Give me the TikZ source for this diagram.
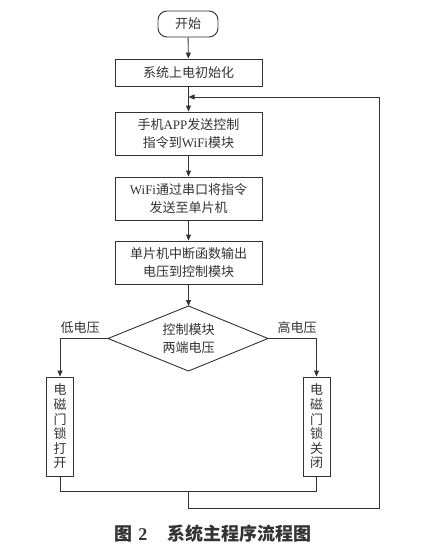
\documentclass[tikz,border=0pt]{standalone}
\usepackage{fontspec}
\setmainfont{Liberation Serif}
\newfontfamily\cjk{Noto Sans CJK SC}
\usetikzlibrary{shapes.geometric,arrows.meta}
\definecolor{ink}{HTML}{333333}
\begin{document}
\begin{tikzpicture}[x=1pt,y=-1pt,
  every node/.style={font=\fontsize{13}{17.5}\selectfont, text=ink},
  procbox/.style={draw=ink, line width=0.9pt, minimum width=147pt, inner sep=0pt, align=center},
  vbox/.style={draw=ink, line width=0.9pt, minimum width=27pt, minimum height=99pt, inner sep=0pt, align=center, font=\fontsize{13}{14.6}\selectfont},
  conn/.style={draw=ink, line width=0.9pt},
  arr/.style={conn, -{Triangle[length=6pt,width=5pt]}}]
\useasboundingbox (0,0) rectangle (426,549);
\node[procbox, rounded corners=9pt, minimum width=60pt, minimum height=26pt] (start) at (188,24) {\cjk 开始};
\node[procbox, minimum height=27pt] (b1) at (188.5,72.5) {\cjk 系统上电初始化};
\node[procbox, minimum height=43pt] (b2) at (188.5,133.5) {{\cjk 手机}APP{\cjk 发送控制}\\{\cjk 指令到}WiFi{\cjk 模块}};
\node[procbox, minimum height=43pt] (b3) at (188.5,198.5) {WiFi{\cjk 通过串口将指令}\\{\cjk 发送至单片机}};
\node[procbox, minimum height=43pt] (b4) at (188.5,262.5) {{\cjk 单片机中断函数输出}\\{\cjk 电压到控制模块}};
\coordinate (dt) at (188.5,306);
\coordinate (db) at (188.5,371);
\coordinate (dl) at (108,338.5);
\coordinate (dr) at (268,338.5);
\draw[conn, line join=miter] (dt) -- (dr) -- (db) -- (dl) -- cycle;
\node[align=center, inner sep=0pt] (dia) at (188.5,338.5) {{\cjk 控制模块}\\{\cjk 两端电压}};
\node[vbox] (lb) at (60,426.5) {\cjk 电\\\cjk 磁\\\cjk 门\\\cjk 锁\\\cjk 打\\\cjk 开};
\node[vbox] (rb) at (316.5,426.5) {\cjk 电\\\cjk 磁\\\cjk 门\\\cjk 锁\\\cjk 关\\\cjk 闭};
\node (lowl) at (80,328) {\cjk 低电压};
\node (highl) at (297,328) {\cjk 高电压};
\coordinate (lc) at (60,338.5);
\coordinate (rc) at (316.5,338.5);
\coordinate (ml) at (60,491);
\coordinate (mr) at (316.5,491);
\coordinate (mm) at (188.5,491);
\coordinate (bm) at (188.5,508);
\coordinate (br) at (379,508);
\coordinate (tr) at (379,97);
\coordinate (jn) at (188.5,97);
\draw[arr] (start) -- (b1);
\draw[arr] (b1) -- (b2);
\draw[arr] (b2) -- (b3);
\draw[arr] (b3) -- (b4);
\draw[arr] (b4) -- (dt);
\draw[arr] (dl) -- (lc) -- (lb.north);
\draw[arr] (dr) -- (rc) -- (rb.north);
\draw[conn] (lb.south) -- (ml) -- (mr) -- (rb.south);
\draw[arr] (mm) -- (bm) -- (br) -- (tr) -- (jn);
\node[font=\fontsize{18}{20}\selectfont, text=ink] (cap) at (213,534) {{\cjk\bfseries 图}\hspace{0.3em}\textbf{2}\hspace{1.1em}{\cjk\bfseries 系统主程序流程图}};
\end{tikzpicture}
\end{document}
